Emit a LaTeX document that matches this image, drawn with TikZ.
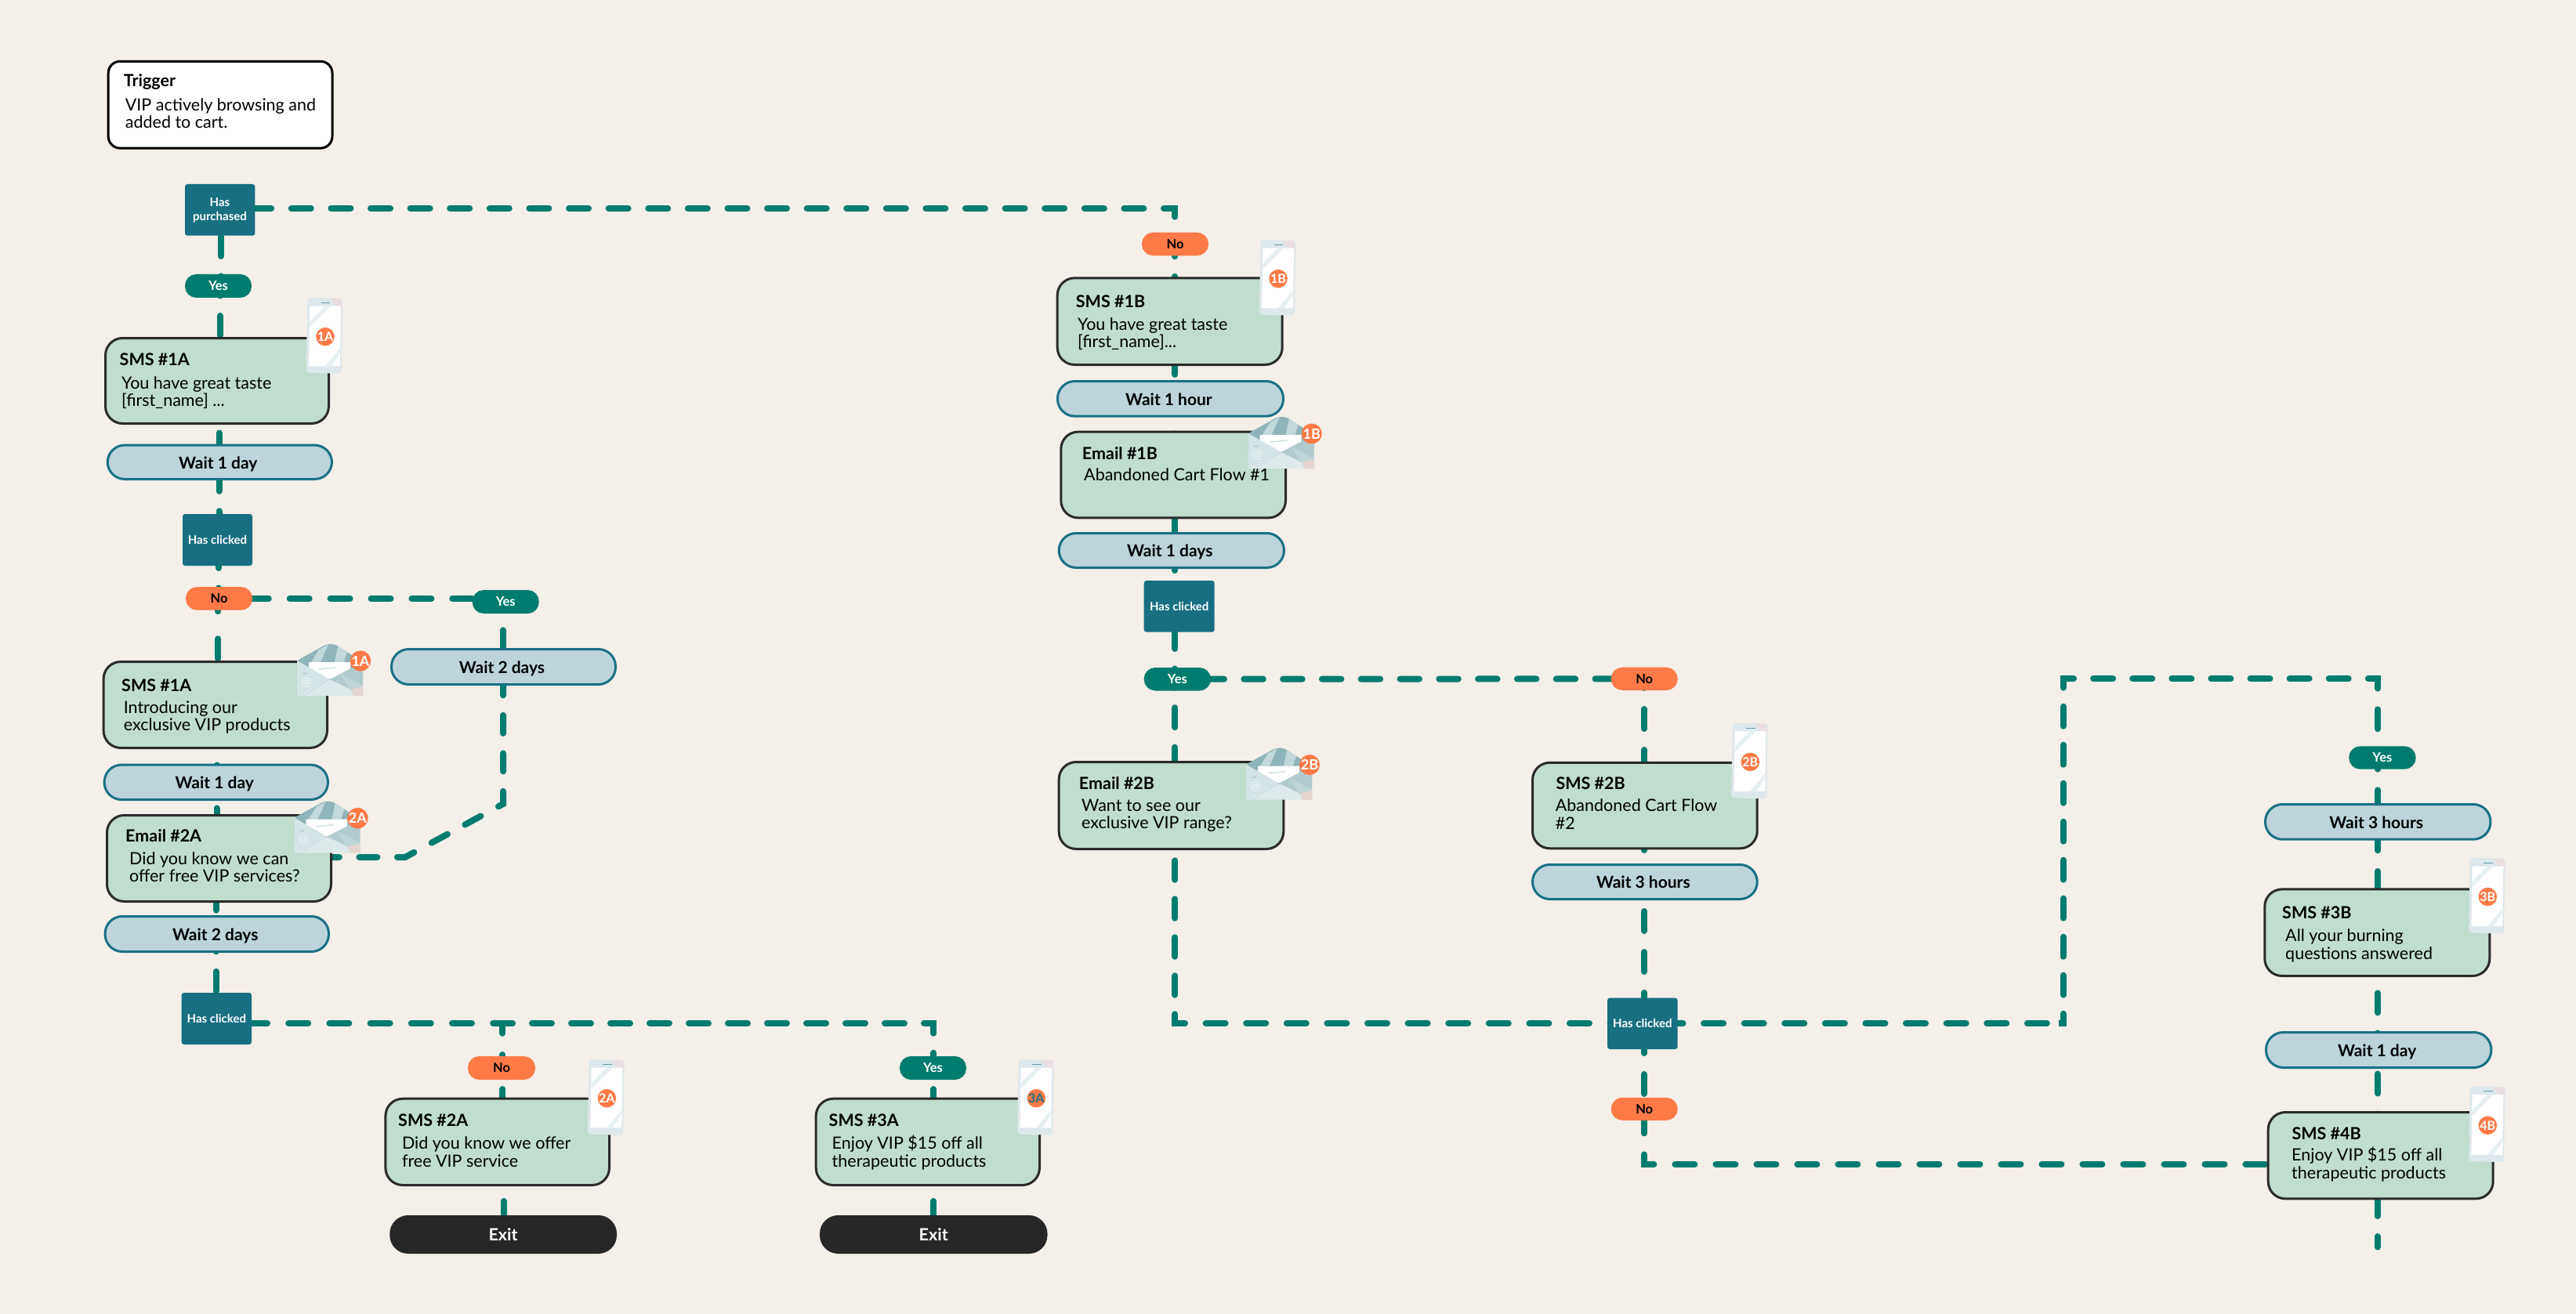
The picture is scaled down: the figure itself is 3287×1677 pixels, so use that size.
\documentclass[tikz,border=0pt]{standalone}
\usepackage{fontspec}
\setmainfont{Lato}
\usetikzlibrary{backgrounds}
\definecolor{pagebg}{HTML}{F4EFE9}
\definecolor{msgfill}{HTML}{C1DDCE}
\definecolor{msgline}{HTML}{2B2B2B}
\definecolor{waitfill}{HTML}{BDD5DA}
\definecolor{waitline}{HTML}{1A7085}
\definecolor{flowc}{HTML}{007C6E}
\definecolor{squarec}{HTML}{186F82}
\definecolor{orangec}{HTML}{FF7A47}
\definecolor{exitc}{HTML}{272727}
\definecolor{phbody}{HTML}{DDE8EC}
\definecolor{phstreak}{HTML}{E6F0F3}
\definecolor{phpink}{HTML}{EBDDE0}
\definecolor{envback}{HTML}{8FB4B9}
\definecolor{envstripe}{HTML}{C3D8DB}
\definecolor{envfront}{HTML}{D5E4E6}
\definecolor{envlow}{HTML}{DEE9EB}
\newcommand\ttlfont{\fontsize{21.5}{24}\selectfont\bfseries}
\newcommand\bdyfont{\fontsize{21.5}{22.6}\selectfont}
\newcommand\twol[2]{\vtop{\baselineskip=22.5pt \hbox{#1}\hbox{#2}}}
\tikzset{
  x=1pt,y=-1pt,
  allnodes/.style={inner sep=0pt,outer sep=0pt,line width=3pt},
  msgbox/.style={allnodes,draw=msgline,fill=msgfill,rounded corners=22pt},
  trigbox/.style={allnodes,draw=black,fill=white,rounded corners=15pt},
  waitbox/.style={allnodes,draw=waitline,fill=waitfill,rounded corners=22pt,
    text height=16.5pt,text depth=0pt,font=\fontsize{21}{24}\selectfont\bfseries,
    execute at begin node={\kern-4pt}},
  square/.style={allnodes,draw=squarec,fill=squarec,rounded corners=2pt,text=white,
    text height=10.5pt,text depth=0pt,align=center,font=\fontsize{15}{18}\selectfont\bfseries},
  yespill/.style={allnodes,draw=flowc,fill=flowc,rounded corners=13pt,text=white,
    text height=11.5pt,text depth=0pt,font=\fontsize{16.5}{18}\selectfont\bfseries},
  nopill/.style={allnodes,draw=orangec,fill=orangec,rounded corners=13pt,text=black,
    text height=11.5pt,text depth=0pt,font=\fontsize{16.5}{18}\selectfont\bfseries},
  exitbox/.style={allnodes,draw=exitc,fill=exitc,rounded corners=22pt,text=white,
    text height=15pt,text depth=0pt,font=\fontsize{21.5}{24}\selectfont\bfseries},
  ttl/.style={anchor=base west,inner sep=0pt,font=\ttlfont,yshift=-1pt},
  bdy/.style={anchor=base west,inner sep=0pt,font=\bdyfont},
  badge/.style={circle,fill=orangec,inner sep=0pt,text=white,font=\fontsize{16}{16}\selectfont\bfseries},
  flow/.style={draw=flowc,line width=8pt,line cap=round,line join=miter},
  dp/.style n args={3}{dash pattern=on #1pt off #2pt,dash phase=#3pt},
  dph/.style={dp={25}{25.5}{#1}},
  pics/phoneico/.style={code={
    \fill[phbody,rounded corners=4pt] (1.7,0)--(46.7,.7)--(45,96.7)--(0,95.7)--cycle;
    \fill[phpink] (30,1)--(44,1)--(46.4,12)--(38,10.7)--cycle;
    \fill[phpink] (1,70)--(3.6,66)--(3.4,76)--cycle;
    \fill[white] (4.7,10.7)--(44.3,10.7)--(43.3,87.3)--(3.3,87.3)--cycle;
    \fill[phstreak] (4.6,30)--(24,10.7)--(31,10.7)--(4.4,38)--cycle;
    \fill[phstreak] (24,87.3)--(43.6,64)--(43.5,70)--(32,87.3)--cycle;
    \draw[waitline!70,line width=.8pt] (19.3,6.3)--(30.7,6.3);
    \node[badge,minimum size=23.5pt] (-b) at (24.3,49.7) {#1};
  }},
  pics/envico/.style={code={
    \fill[envback,rounded corners=4pt] (0,22)--(38,1)--(48,1)--(84,24)--(84,50)--(0,50)--cycle;
    \fill[envstripe] (28,8)--(40,1.5)--(30,24)--(18,24)--cycle;
    \fill[envstripe] (52,4)--(64,11)--(60,24)--(48,24)--cycle;
    \fill[white] (15,24)--(68,24)--(68,35)--(42,46)--(15,35)--cycle;
    \draw[envstripe,line width=1.2pt] (28,33)--(50,31);
    \fill[envback!70!white] (42,46)--(84,24)--(84,67)--cycle;
    \fill[envfront] (0,22)--(42,46)--(0,67)--cycle;
    \fill[envlow,rounded corners=2pt] (0,67)--(21,56.5)--(42,46)--(84,67)--cycle;
    \fill[envlow!60!envback] (55,39)--(84,54)--(84,67)--(66,57)--cycle;
    \fill[orangec!18!envlow] (68,59)--(84,55)--(84,67)--(72,67)--cycle;
    \draw[envstripe,line width=.6pt] (8,67)--(42,46);
    \draw[envback!80!white,line width=1pt] (7,39)--(13,38);
    \node[inner sep=0pt,text=envlow!60!white,font=\fontsize{16}{16}\selectfont\bfseries] (-at) at (12,50) {@};
    \node[badge,minimum size=26pt,font=\fontsize{18}{18}\selectfont\bfseries] (-b) at (81,22.5) {#1};
  }}
}
% style, name, x0, y0, x1, y1, text
\newcommand\bxnode[7]{\node[#1,minimum width={#5-#3-3},minimum height={#6-#4-3}] (#2) at ({(#3+#5)/2},{(#4+#6)/2}) {#7};}
% vertical connector between two node centres at column x
\newcommand\vc[4]{\draw[flow,#4] (#1.center -| #3,0) -- (#2.center -| #3,0);}
\begin{document}
\begin{tikzpicture}
\useasboundingbox (0,0) rectangle (3287,1677);
% ---------- boxes
\bxnode{trigbox}{trig}{136.7}{76.8}{425.5}{190.6}{}
\bxnode{square}{hp}{236}{235}{325.4}{300.7}{}
\bxnode{yespill}{yesa}{236}{350}{321}{380}{Yes}
\bxnode{msgbox}{smsa}{133}{430}{421}{542}{}
\bxnode{waitbox}{wa}{135.7}{566.6}{425}{613}{Wait 1 day}
\bxnode{square}{hca}{233}{656}{322}{722}{Has clicked}
\bxnode{nopill}{noa}{237}{749}{322}{778.7}{No}
\bxnode{yespill}{yesb}{602.7}{753}{687.7}{783}{Yes}
\bxnode{waitbox}{wb}{498}{827}{787}{875}{Wait 2 days}
\bxnode{msgbox}{smsb}{130.6}{843}{419}{956}{}
\bxnode{waitbox}{wc}{131.6}{974.6}{420}{1022}{Wait 1 day}
\bxnode{msgbox}{emb}{135}{1039}{424}{1152}{}
\bxnode{waitbox}{wd}{132.6}{1168}{421}{1216}{Wait 2 days}
\bxnode{square}{hcb}{231.6}{1267}{321}{1333}{Has clicked}
\bxnode{nopill}{noc}{597}{1348}{683}{1378}{No}
\bxnode{yespill}{yesc}{1148}{1348}{1233}{1378}{Yes}
\bxnode{msgbox}{smsc}{490.4}{1400.7}{779}{1514}{}
\bxnode{msgbox}{smsd}{1039.7}{1400.7}{1328}{1514}{}
\bxnode{exitbox}{exa}{497.3}{1551}{787}{1600}{Exit}
\bxnode{exitbox}{exb}{1046}{1551}{1336.5}{1600}{Exit}
\bxnode{nopill}{nod}{1457}{296.7}{1542}{326.3}{No}
\bxnode{msgbox}{smse}{1347.7}{353.3}{1637.7}{467}{}
\bxnode{waitbox}{we}{1348}{485}{1639}{532.7}{Wait 1 hour}
\bxnode{msgbox}{eme}{1352.3}{549.6}{1642}{662.4}{}
\bxnode{waitbox}{wf}{1349.7}{679}{1640}{726}{Wait 1 days}
\bxnode{square}{hcc}{1459.7}{741}{1549.7}{806.7}{Has clicked}
\bxnode{yespill}{yese}{1459.7}{852}{1545}{881.5}{Yes}
\bxnode{msgbox}{emf}{1349.7}{971}{1639.3}{1085}{}
\bxnode{nopill}{nof}{2055.7}{851.7}{2140.7}{881}{No}
\bxnode{msgbox}{smsf}{1954}{971.8}{2243.7}{1084.3}{}
\bxnode{waitbox}{wg}{1954}{1102}{2243.7}{1149}{Wait 3 hours}
\bxnode{square}{hcd}{2051}{1273.6}{2140.7}{1339}{Has clicked}
\bxnode{nopill}{nog}{2055.7}{1400.8}{2140.7}{1429.8}{No}
\bxnode{yespill}{yesh}{2997.2}{952.3}{3082.6}{981.7}{Yes}
\bxnode{waitbox}{wh}{2889}{1025}{3179.4}{1072.7}{Wait 3 hours}
\bxnode{msgbox}{smsh}{2888.3}{1133.4}{3178.3}{1247}{}
\bxnode{waitbox}{wi}{2890}{1316}{3180.3}{1364}{Wait 1 day}
\bxnode{msgbox}{smsi}{2892.7}{1418}{3182.7}{1531.4}{}
% ---------- square text in two lines
\node[inner sep=0pt,anchor=base,text=white,font=\fontsize{15}{18}\selectfont\bfseries] (hpa) at (280.5,264) {Has};
\node[inner sep=0pt,anchor=base,text=white,font=\fontsize{15}{18}\selectfont\bfseries] (hpb) at (280.5,282) {purchased};
% ---------- titles and bodies
\node[ttl] (ta) at (157.6,110) {Trigger};
\node[bdy] (ba) at (159.7,141.4) {\twol{VIP actively browsing and}{added to cart.}};
\node[ttl] (tb) at (152.5,465.7) {SMS \#1A};
\node[bdy] (bb) at (155,496) {\twol{You have great taste}{[first\_name] ...}};
\node[ttl] (tc) at (155,881) {SMS \#1A};
\node[bdy] (bc) at (157.6,910.3) {\twol{Introducing our}{exclusive VIP products}};
\node[ttl] (td) at (160,1073.5) {Email \#2A};
\node[bdy] (bd) at (165,1103) {\twol{Did you know we can}{offer free VIP services?}};
\node[ttl] (te) at (508,1436.7) {SMS \#2A};
\node[bdy] (be) at (512.8,1466.7) {\twol{Did you know we offer}{free VIP service}};
\node[ttl] (tf) at (1057.5,1436.7) {SMS \#3A};
\node[bdy] (bf) at (1061.5,1466.7) {\twol{Enjoy VIP \$15 off all}{therapeutic products}};
\node[ttl] (tg) at (1372.7,391) {SMS \#1B};
\node[bdy] (bg) at (1375,421) {\twol{You have great taste}{[first\_name]...}};
\node[ttl] (th) at (1380.7,585) {Email \#1B};
\node[bdy] (bh) at (1383,613) {Abandoned Cart Flow \#1};
\node[ttl] (ti) at (1376.7,1006.5) {Email \#2B};
\node[bdy] (bi) at (1380,1035) {\twol{Want to see our}{exclusive VIP range?}};
\node[ttl] (tj) at (1985.3,1006.6) {SMS \#2B};
\node[bdy] (bj) at (1984.7,1035.6) {\twol{Abandoned Cart Flow}{\#2}};
\node[ttl] (tk) at (2912,1171.3) {SMS \#3B};
\node[bdy] (bk) at (2916,1201.6) {\twol{All your burning}{questions answered}};
\node[ttl] (tl) at (2924.3,1453.6) {SMS \#4B};
\node[bdy] (bl) at (2924,1481.9) {\twol{Enjoy VIP \$15 off all}{therapeutic products}};
% ---------- icons
\pic (pa) at (390.7,380) {phoneico=1A};
\pic (pb) at (1606.7,306) {phoneico=1B};
\pic (pc) at (2209,922.7) {phoneico=2B};
\pic (pd) at (750,1352) {phoneico=2A};
\pic (pe) at (1298,1352) {phoneico={\textcolor{waitline}{3A}}};
\pic (pf) at (3150,1094.8) {phoneico=3B};
\pic (pg) at (3150,1386.5) {phoneico=4B};
\pic (ea) at (379,821) {envico=1A};
\pic (eb) at (375.4,1021.7) {envico=2A};
\pic (ec) at (1592.7,531) {envico=1B};
\pic (ed) at (1590,953.6) {envico=2B};
% ---------- corner and free-end coordinates
\coordinate (ctee) at (641.4,1306);
\coordinate (ca) at (1191.3,1306);
\coordinate (cb) at (517,1094);
\coordinate (cc) at (642,1026);
\coordinate (cd) at (1499.3,266);
\coordinate (ce) at (1499.3,1306);
\coordinate (cf) at (2632.7,1306);
\coordinate (cg) at (2632.7,866);
\coordinate (ch) at (3034,866);
\coordinate (ci) at (2098,1486);
\coordinate (cj) at (3033.7,1591.5);
\begin{scope}[on background layer]
\fill[pagebg] (0,0) rectangle (3287,1677);
% left column
\draw[flow,dp={13}{100}{98.6}] (trig.center -| 282.6,0) -- (hp.center -| 282.6,0);
\vc{hp}{yesa}{282}{dph=16.35}
\vc{yesa}{smsa}{281}{dph=12.5}
\vc{smsa}{wa}{280}{dph=34.4}
\vc{wa}{hca}{279.5}{dph=38.5}
\vc{hca}{noa}{279}{dph=39.5}
\vc{noa}{smsb}{278.4}{dp={25}{35}{8.6}}
\vc{smsb}{wc}{277}{dph=24}
\vc{wc}{emb}{276.5}{dph=17.4}
\vc{emb}{wd}{276}{dph=9.4}
\vc{wd}{hcb}{275.5}{dph=2.6}
% no -> yes branch
\draw[flow,dp={25}{26.9}{13.6}] (noa.center) -- (yesb.center |- noa.center);
\vc{yesb}{wb}{641.7}{dph=14.2}
\draw[flow,dp={23}{25.5}{15.1}] (emb.center |- cb) -- (cb) -- (cc) -- (wb.center -| cc);
% bottom branches
\draw[flow,dp={25}{27.2}{12.5}] (hcb.center |- ctee) -- (ctee) -- (noc.center -| ctee);
\draw[flow,dp={25}{25}{12.4}] (ctee) -- (ca) -- (yesc.center -| ca);
\vc{noc}{smsc}{641.4}{dph=23.5}
\vc{yesc}{smsd}{1191.3}{dph=23.5}
\vc{smsc}{exa}{642.5}{dph=25.4}
\vc{smsd}{exb}{1191.3}{dph=25.4}
% top branch
\draw[flow,dp={25}{25.6}{10.1}] (hp.center |- cd) -- (cd) -- (nod.center -| cd);
\vc{nod}{smse}{1499.3}{dph=9.2}
\vc{smse}{we}{1499.3}{dph=7.6}
\vc{we}{eme}{1499.3}{dph=5.85}
\vc{eme}{wf}{1499.3}{dph=2.5}
\vc{wf}{hcc}{1499.3}{dph=50}
\vc{hcc}{yese}{1499.3}{dph=21.35}
\vc{yese}{emf}{1499.3}{dph=14.05}
\draw[flow,dp={24.5}{25.3}{14.65}] (yese.center) -- (nof.center);
\draw[flow,dp={24.5}{24.5}{27.7}] (emf.center -| ce) -- (ce);
\draw[flow,dp={25}{26.6}{12.3}] (ce) -- (hcd.center |- ce);
\draw[flow,line cap=butt] (ce) ++(0,-6) -- ++(0,6) -- ++(6,0);
% right part
\vc{nof}{smsf}{2098}{dp={25}{27}{13.35}}
\vc{smsf}{wg}{2098}{dp={25}{26.7}{19.7}}
\vc{wg}{hcd}{2098}{dp={25}{27}{14.5}}
\vc{hcd}{nog}{2098}{dp={25}{27}{39.3}}
\draw[flow,dp={25}{27}{45.9}] (nog.center -| ci) -- (ci) -- (smsi.center |- ci);
\draw[flow,dp={25}{26.6}{25}] (hcd.center |- cf) -- (cf);
\draw[flow,dp={25}{24}{12.7}] (cf) -- (cg);
\draw[flow,dp={25}{25.1}{11.7}] (cg) -- (ch);
\draw[flow,dp={25}{26.7}{12.4}] (ch) -- (yesh.center -| ch);
\draw[flow,line cap=butt] (cf) ++(-6,0) -- ++(6,0) -- ++(0,-6);
\draw[flow,line cap=butt] (cg) ++(0,6) -- ++(0,-6) -- ++(6,0);
\draw[flow,line cap=butt] (ch) ++(-6,0) -- ++(6,0) -- ++(0,6);
\vc{yesh}{wh}{3034}{dp={25}{26.7}{10.4}}
\vc{wh}{smsh}{3034}{dp={25}{26.7}{40.25}}
\vc{smsh}{wi}{3033.7}{dp={25}{26}{24.8}}
\vc{wi}{smsi}{3033.7}{dp={25}{26}{20.5}}
\draw[flow,dp={25}{26}{49.7}] (smsi.center -| cj) -- (cj);
\end{scope}
\end{tikzpicture}
\end{document}
